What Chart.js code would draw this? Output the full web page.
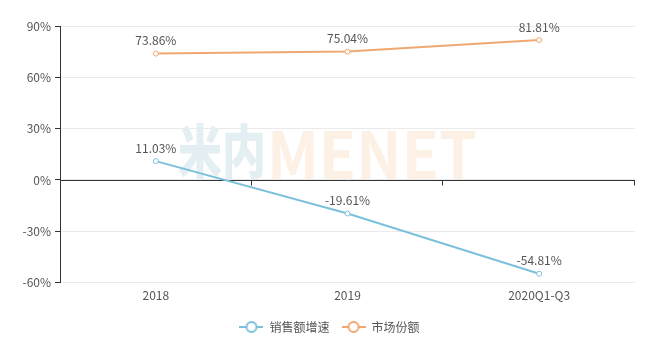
<!DOCTYPE html>
<html>
<head>
<meta charset="utf-8">
<script src="https://cdn.jsdelivr.net/npm/chart.js@4/dist/chart.umd.min.js"></script>
<style>
  html, body { margin: 0; padding: 0; background: #fff; }
  #wrap { width: 652px; height: 351px; }
</style>
</head>
<body>
<div id="wrap"><canvas id="lineChart"></canvas></div>
<script>
const categories = ["2018", "2019", "2020Q1-Q3"];
const salesGrowth = [11.03, -19.61, -54.81];
const marketShare = [73.86, 75.04, 81.81];
const yTicks = [-60, -30, 0, 30, 60, 90];

const BLUE = "#7dc0db";
const ORANGE = "#f0a870";
const FONT = "'Noto Sans CJK SC', 'Noto Sans', sans-serif";

// legend icon: short line with hollow circle
function legendIcon(color) {
    const c = document.createElement("canvas");
    c.width = 24; c.height = 14;
    const g = c.getContext("2d");
    g.strokeStyle = color;
    g.lineWidth = 2;
    g.beginPath(); g.moveTo(0, 7); g.lineTo(24, 7); g.stroke();
    g.fillStyle = "#fff";
    g.beginPath(); g.arc(12, 7, 5, 0, Math.PI * 2); g.fill(); g.stroke();
    return c;
}

// zero axis line, boundary ticks, watermark, value labels
const extras = {
    id: "extras",
    afterLayout(chart) {
        // center legend on the full canvas width
        chart.legend.left += 12;
        chart.legend.right += 12;
    },
    beforeDatasetsDraw(chart) {
        const { ctx, chartArea: a, scales: { x, y } } = chart;
        ctx.save();
        // watermark
        ctx.textBaseline = "alphabetic";
        ctx.font = "900 58px " + FONT;
        ctx.fillStyle = "#e4eff3";
        ctx.fillText("米内", 178, 173, 88);
        ctx.font = "bold 65px " + FONT;
        ctx.fillStyle = "#fdf0e5";
        ctx.fillText("MENET", 267, 179, 210);
        // zero line
        const y0 = Math.round(y.getPixelForValue(0)) + 0.5;
        ctx.strokeStyle = "#333";
        ctx.lineWidth = 1;
        ctx.beginPath(); ctx.moveTo(a.left, y0); ctx.lineTo(a.right, y0); ctx.stroke();
        const step = (a.right - a.left) / categories.length;
        for (let i = 1; i <= categories.length; i++) {
            const px = Math.round(a.left + step * i) - 0.5;
            ctx.beginPath(); ctx.moveTo(px, y0); ctx.lineTo(px, y0 + 5); ctx.stroke();
        }
        ctx.restore();
    },
    afterDatasetsDraw(chart) {
        const { ctx } = chart;
        ctx.save();
        ctx.font = "12px " + FONT;
        ctx.fillStyle = "#555";
        ctx.textAlign = "center";
        ctx.textBaseline = "bottom";
        chart.data.datasets.forEach((ds, i) => {
            chart.getDatasetMeta(i).data.forEach((pt, j) => {
                ctx.fillText(ds.data[j].toFixed(2) + "%", pt.x, pt.y - 7);
            });
        });
        ctx.restore();
    }
};

new Chart(document.getElementById("lineChart"), {
    type: "line",
    data: {
        labels: categories,
        datasets: [
            {
                label: "销售额增速",
                data: salesGrowth,
                borderColor: BLUE,
                backgroundColor: "#fff",
                borderWidth: 2,
                pointRadius: 2.5,
                pointBorderWidth: 1,
                tension: 0
            },
            {
                label: "市场份额",
                data: marketShare,
                borderColor: ORANGE,
                backgroundColor: "#fff",
                borderWidth: 2,
                pointRadius: 2.5,
                pointBorderWidth: 1,
                tension: 0
            }
        ]
    },
    options: {
        responsive: true,
        maintainAspectRatio: false,
        animation: false,
        layout: { padding: { top: 26, right: 17, bottom: 8, left: 0 } },
        plugins: {
            tooltip: { enabled: false },
            legend: {
                position: "bottom",
                labels: {
                    font: { family: FONT, size: 12 },
                    color: "#555",
                    usePointStyle: true,
                    pointStyleWidth: 24,
                    boxHeight: 14,
                    padding: 12,
                    generateLabels(chart) {
                        return chart.data.datasets.map((ds, i) => ({
                            text: ds.label,
                            pointStyle: legendIcon(ds.borderColor),
                            fillStyle: "#fff",
                            strokeStyle: ds.borderColor,
                            lineWidth: 0,
                            datasetIndex: i,
                            fontColor: "#555"
                        }));
                    }
                }
            }
        },
        scales: {
            x: {
                offset: true,
                grid: { display: false, drawTicks: false },
                border: { display: false },
                ticks: { font: { family: FONT, size: 12 }, color: "#555", padding: 6 }
            },
            y: {
                min: -60,
                max: 90,
                afterBuildTicks(scale) { scale.ticks = yTicks.map(v => ({ value: v })); },
                afterFit(scale) { scale.width = 60; },
                grid: { color: "#eaeaea", tickColor: "#333", tickLength: 5 },
                border: { display: true, color: "#333" },
                ticks: {
                    font: { family: FONT, size: 12 },
                    color: "#555",
                    padding: 4,
                    callback: v => v + "%"
                }
            }
        }
    },
    plugins: [extras]
});
</script>
</body>
</html>
